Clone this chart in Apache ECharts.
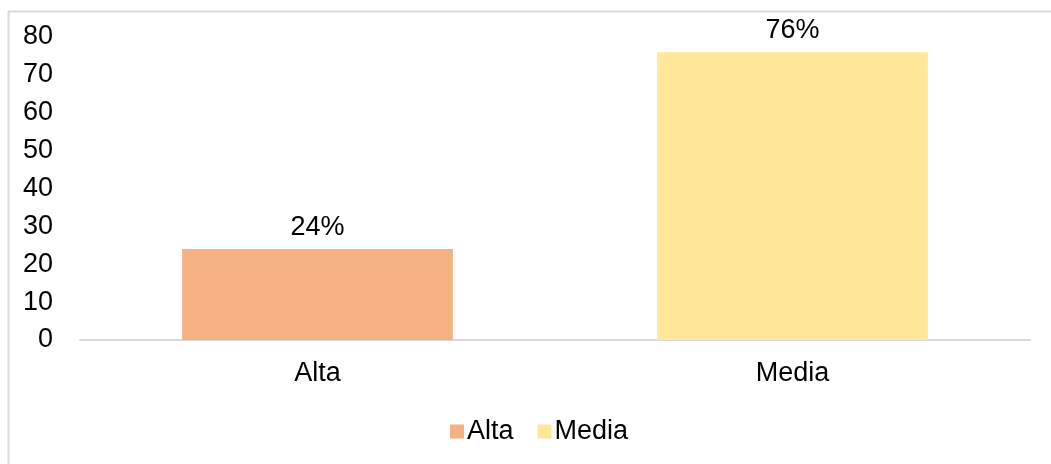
<!DOCTYPE html>
<html>
<head>
<meta charset="utf-8">
<script src="https://cdn.jsdelivr.net/npm/echarts@6/dist/echarts.min.js"></script>
<style>html,body{margin:0;padding:0;background:#fff}#c{width:1051px;height:464px}</style>
</head>
<body>
<div id="c"></div>
<script>
const categories = ['Alta', 'Media'];
const values = [24, 76];
const colors = ['#F4B183', '#FFE699'];
const yTicks = [0, 10, 20, 30, 40, 50, 60, 70, 80];

const FONT = 'Liberation Sans, Arial, sans-serif';
const FS = 27;
const chart = echarts.init(document.getElementById('c'));
const series = categories.map((name, i) => ({
  name: name,
  type: 'bar',
  stack: 'all',
  barWidth: '57%',
  data: categories.map((c, j) => j === i ? values[i] : '-'),
  itemStyle: { color: colors[i] },
  label: {
    show: true, position: 'top', distance: 8,
    formatter: '{c}%', color: '#000', fontSize: FS, fontFamily: FONT
  }
}));
chart.setOption({
  animation: false,
  graphic: [{
    type: 'rect', left: 6, top: 9, shape: { width: 1100, height: 500 },
    style: { fill: 'none', stroke: '#d9d9d9', lineWidth: 2 }, z: -1
  }],
  grid: { left: 80, right: 21, top: 37, bottom: 124 },
  legend: {
    data: categories, bottom: 14, left: 445,
    itemWidth: 14, itemHeight: 14, itemGap: 24, icon: 'rect',
    textStyle: { fontSize: FS, fontFamily: FONT, color: '#000', padding: [0, 0, 0, -2] }
  },
  xAxis: {
    type: 'category', data: categories,
    axisLine: { lineStyle: { color: '#d9d9d9', width: 2 } },
    axisTick: { show: false },
    axisLabel: { fontSize: FS, fontFamily: FONT, color: '#000', margin: 20 }
  },
  yAxis: {
    type: 'value', min: yTicks[0], max: yTicks[yTicks.length - 1], interval: 10,
    splitLine: { show: false },
    axisLine: { show: false }, axisTick: { show: false },
    axisLabel: { fontSize: FS, fontFamily: FONT, color: '#000', margin: 27 }
  },
  series: series
});
</script>
</body>
</html>
